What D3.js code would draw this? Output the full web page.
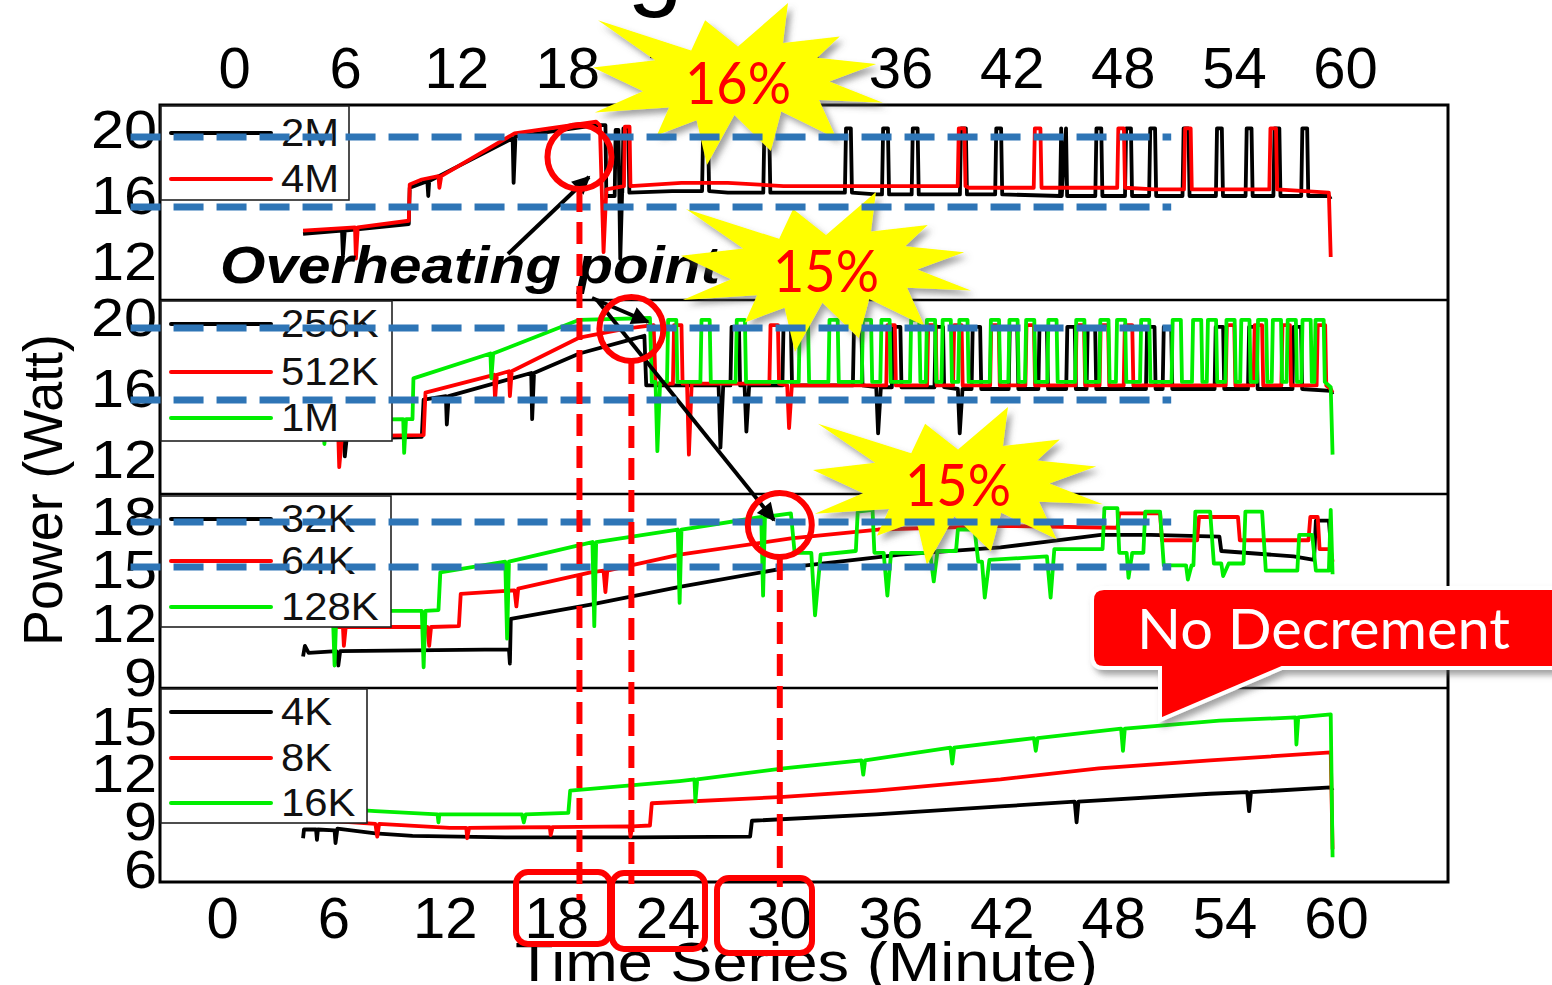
<!DOCTYPE html>
<html>
<head>
<meta charset="utf-8">
<script src="https://cdn.jsdelivr.net/npm/d3@7"></script>
<style>
  html, body { margin: 0; padding: 0; background: #fff; overflow: hidden; }
  svg { display: block; }
</style>
</head>
<body>
<svg id="chart" width="1552" height="985"></svg>
<script>

// time in minutes, power in watts
var xTicks = [0, 6, 12, 18, 24, 30, 36, 42, 48, 54, 60];
var yTicks = [[12, 16, 20], [12, 16, 20], [9, 12, 15, 18], [6, 9, 12, 15]];
var legendNames = [["2M", "4M"], ["256K", "512K", "1M"], ["32K", "64K", "128K"], ["4K", "8K", "16K"]];

// panel 1 : 2M / 4M
var power2M = [[4.1,13.7],[6.2,13.9],[6.25,12.4],[6.35,13.9],[9.8,14.3],[9.85,16.5],[10.8,16.9],[10.85,16.0],[10.9,16.9],
  [15.4,19.5],[15.45,16.8],[15.55,19.6],[19.9,20.3],[20.4,20.3],[20.45,16.0],[20.9,16.0],[20.95,20.0],[21.1,20.0],
  [21.2,12.2],[21.3,16.2],[24.0,16.3],[27.0,16.2],[35.0,16.1],[45.0,16.0],[59.4,16.0],[59.5,15.8]];
var pulses2M = [21.5, 25.8, 29.1, 33.5, 35.5, 37.1, 39.7, 41.6, 45.1, 47.0, 48.6, 49.9, 51.7, 53.5, 55.1, 56.6, 58.1];
var power4M = [[4.1,13.9],[6.9,14.1],[6.95,12.2],[7.05,14.1],[9.8,14.5],[9.85,16.7],[10.5,17.0],[11.4,17.2],[11.45,16.5],
  [11.55,17.2],[15.5,19.8],[19.9,20.5],[20.1,20.3],[20.3,12.6],[20.45,16.4],[21.4,16.6],[21.45,20.2],[21.7,20.2],
  [21.75,16.6],[24.5,16.8],[27.0,16.8],[30.0,16.6],[40.0,16.5],[50.0,16.4],[59.4,16.2],[59.5,12.3]];
var pulses4M = [39.6, 43.7, 48.2, 51.8, 56.4];

// panel 2 : 256K / 512K / 1M
var power256K = [[4.9,13.2],[6.3,13.2],[6.35,12.2],[6.45,13.2],[10.5,13.3],[10.6,15.4],[11.8,15.6],[11.85,14.0],[11.95,15.6],
  [16.4,16.9],[16.45,14.3],[16.55,16.9],[19.0,18.0],[21.8,18.8],[22.5,19.0],[22.6,16.2],[26.5,16.2],[26.6,12.7],
  [26.75,16.2],[27.9,16.2],[28.0,13.6],[28.15,16.2],[35.0,16.1],[35.1,13.5],[35.25,16.1],[39.4,16.0],[39.5,13.5],
  [39.65,16.0],[59.5,15.9],[59.6,15.7]];
var pulses256K = [27.4, 30.2, 34.0, 36.1, 38.4, 40.4, 42.4, 44.0, 45.5, 46.6, 49.8, 50.7, 53.5, 55.3, 57.7];
var power512K = [[4.9,13.35],[6.0,13.35],[6.05,11.6],[6.2,13.35],[10.6,13.4],[10.7,15.8],[14.4,16.8],[14.45,15.4],
  [14.55,16.8],[15.2,17.0],[15.25,15.6],[15.35,17.0],[19.0,18.9],[21.5,19.4],[23.0,19.6],[23.1,16.3],[24.8,16.3],
  [24.9,12.3],[25.05,16.3],[30.2,16.2],[30.3,13.8],[30.45,16.2],[59.5,16.0],[59.6,15.8]];
var pulses512K = [24.3, 29.5, 35.8, 38.0, 39.4, 41.4, 43.3, 46.0, 47.3, 48.6, 54.1, 55.6, 57.1, 59.0];
var power1M = [[4.9,14.25],[5.2,14.25],[5.25,12.9],[5.35,14.25],[9.5,14.3],[9.55,12.4],[9.65,14.3],[10.0,14.3],
  [10.05,16.6],[14.2,18.0],[14.25,16.6],[14.35,18.0],[19.0,19.9],[22.8,20.0],[22.9,16.4],[23.1,16.4],[23.2,12.5],
  [23.35,16.4],[59.5,16.1],[59.6,12.3]];
var pulses1M = [24.0, 25.8, 27.7, 31.1, 32.7, 34.5, 35.5, 37.1, 37.95, 38.8, 39.7, 41.4, 42.4, 43.3, 44.5, 46.0,
  47.3, 48.2, 49.5, 51.2, 52.3, 53.1, 54.1, 54.9, 55.8, 56.6, 57.4, 58.2, 58.9];

// panel 3 : 32K / 64K / 128K
var power32K = [[4.1,10.2],[4.2,10.8],[4.4,10.4],[5.9,10.5],[6.0,9.7],[6.1,10.5],[15.2,10.6],[15.25,9.8],[15.3,12.3],
  [19.6,13.1],[24.4,14.1],[30.4,15.2],[36.3,15.9],[41.7,16.3],[44.0,16.6],[47.1,17.0],[49.8,17.0],[53.5,16.9],
  [53.6,16.1],[57.5,15.8],[58.6,15.6],[58.7,17.8],[59.4,17.8],[59.5,16.5]];
var power64K = [[5.9,11.85],[6.25,11.85],[6.3,10.8],[6.4,11.85],[10.8,11.85],[10.9,10.8],[11.0,11.85],[12.5,11.9],
  [12.6,13.7],[15.5,13.9],[15.6,13.0],[15.7,14.0],[19.6,14.9],[20.3,15.0],[20.4,13.8],[20.5,15.0],[24.4,15.9],
  [30.4,16.8],[35.1,17.3],[41.7,17.5],[48.0,17.4],[48.1,18.2],[50.3,18.2],[50.4,16.7],[52.3,16.7],[52.4,18.0],
  [54.5,18.0],[54.6,16.7],[58.3,16.7],[58.4,18.0],[58.8,18.0],[58.9,16.2],[59.5,16.2],[59.6,15.5]];
var power128K = [[5.7,12.75],[5.8,9.7],[5.9,12.75],[10.5,12.75],[10.6,9.6],[10.7,12.75],[11.4,12.8],[11.5,14.9],
  [15.0,15.5],[15.1,11.2],[15.2,15.5],[19.7,16.6],[19.8,11.9],[19.9,16.6],[24.3,17.3],[24.4,13.2],[24.5,17.3],
  [28.8,18.0],[28.9,13.6],[29.0,18.0],[30.4,18.2],[30.6,16.0],[31.5,16.0],[31.7,12.5],[32.0,15.9],[33.9,16.1],
  [34.0,18.3],[34.8,18.4],[34.9,16.0],[35.4,16.0],[35.6,13.6],[35.8,16.0],[37.9,16.0],[38.1,14.4],[38.3,16.1],
  [39.3,16.1],[39.4,17.3],[40.3,17.3],[40.5,15.5],[40.7,15.5],[40.85,13.5],[41.1,15.6],[44.2,15.8],[44.4,13.5],
  [44.6,16.2],[47.2,16.2],[47.3,18.5],[48.0,18.5],[48.1,16.0],[48.5,16.0],[48.6,14.6],[48.8,16.0],[49.4,16.0],
  [49.5,18.3],[50.3,18.3],[50.5,15.3],[51.7,15.3],[51.8,14.5],[52.0,15.3],[52.1,15.3],[52.2,18.3],[53.0,18.3],
  [53.2,15.4],[53.6,15.4],[53.7,14.7],[54.0,15.4],[54.8,15.4],[54.9,18.3],[55.8,18.3],[56.0,15.0],[57.7,15.0],
  [57.8,17.0],[58.5,17.0],[58.7,15.0],[59.4,15.0],[59.5,18.4],[59.6,14.8]];

// panel 4 : 4K / 8K / 16K
var power4K = [[4.1,8.0],[4.15,8.55],[4.8,8.55],[4.85,7.9],[4.9,8.55],[5.8,8.5],[5.85,7.7],[5.95,8.6],[8.0,8.3],
  [10.0,8.15],[15.0,8.05],[22.0,8.05],[28.2,8.1],[28.3,9.1],[35.0,9.5],[41.7,10.0],[45.7,10.3],[45.8,9.0],[45.9,10.3],
  [53.0,10.8],[55.0,10.9],[55.1,9.7],[55.2,10.9],[59.5,11.2],[59.6,11.0]];
var power8K = [[4.1,9.2],[8.0,8.9],[8.1,8.1],[8.2,8.9],[12.0,8.65],[12.9,8.65],[12.95,8.0],[13.05,8.65],[17.4,8.7],
  [17.45,8.2],[17.55,8.7],[21.7,8.75],[21.75,8.1],[21.85,8.75],[22.8,8.8],[22.9,10.2],[30.0,10.6],[35.0,11.0],
  [41.7,11.7],[47.0,12.4],[53.0,12.9],[59.5,13.4],[59.6,7.3]];
var power16K = [[4.1,10.0],[8.0,9.7],[11.35,9.5],[11.4,9.0],[11.45,9.5],[15.9,9.5],[16.0,9.0],[16.1,9.5],[18.4,9.6],
  [18.5,11.0],[24.4,11.6],[25.2,11.7],[25.25,10.3],[25.35,11.7],[30.0,12.4],[34.2,12.9],[34.3,12.0],[34.4,12.9],
  [39.0,13.7],[39.1,12.7],[39.2,13.7],[43.5,14.3],[43.6,13.5],[43.7,14.3],[48.2,14.9],[48.3,13.5],[48.4,14.9],
  [53.5,15.4],[57.6,15.6],[57.65,13.9],[57.75,15.6],[59.5,15.8],[59.6,6.8]];

// annotations (data units)
var thresholds = [[19.58, 15.33], [19.44, 15.38], [17.72, 15.21]];
var overheatPoints = [{ panel: 0, t: 19.0, v: 18.36 }, { panel: 1, t: 21.8, v: 19.38 }, { panel: 2, t: 29.8, v: 17.55 }];
var dropLabels = ["16%", "15%", "15%"];


function withPulses(base, times, top, hw) {
  var pts = base.slice();
  times.forEach(function(t) {
    var prev = base.filter(function(d) { return d[0] <= t; }).pop();
    var lo = prev ? prev[1] : base[0][1];
    pts.push([t - hw - 0.06, lo], [t - hw, top], [t + hw, top], [t + hw + 0.06, lo]);
  });
  return pts.sort(function(a, b) { return a[0] - b[0]; });
}

var colors = ["#000000", "#ff0000", "#00ee00"];

var panels = [
  { top: 105, bottom: 300, y: d3.scaleLinear().domain([12, 20]).range([262, 130]),
    series: [withPulses(power2M, pulses2M, 20.1, 0.13), withPulses(power4M, pulses4M, 20.1, 0.15)],
    legend: { y: 106, w: 188, h: 94, rows: [133, 179] } },
  { top: 300, bottom: 494, y: d3.scaleLinear().domain([12, 20]).range([460, 318]),
    series: [withPulses(power256K, pulses256K, 19.5, 0.2), withPulses(power512K, pulses512K, 19.6, 0.2),
             withPulses(power1M, pulses1M, 19.9, 0.22)],
    legend: { y: 301, w: 231, h: 140, rows: [324, 372, 418] } },
  { top: 494, bottom: 688, y: d3.scaleLinear().domain([9, 18]).range([678, 517]),
    series: [power32K, power64K, power128K],
    legend: { y: 496, w: 230, h: 131, rows: [519, 561, 607] } },
  { top: 688, bottom: 882, y: d3.scaleLinear().domain([6, 15]).range([870, 727]),
    series: [power4K, power8K, power16K],
    legend: { y: 689, w: 206, h: 134, rows: [712, 758, 803] } }
];

var left = 160, right = 1448;
var x = d3.scaleLinear().domain([0, 60]).range([227, 1340]);
var xBottom = d3.scaleLinear().domain([0, 60]).range([222, 1336]);
var xTop = d3.scaleLinear().domain([0, 60]).range([234, 1345]);

var svg = d3.select("#chart");
var defs = svg.append("defs");

var shadow = defs.append("filter").attr("id", "shadow")
  .attr("x", "-20%").attr("y", "-20%").attr("width", "140%").attr("height", "140%");
shadow.append("feDropShadow").attr("dx", 4).attr("dy", 5).attr("stdDeviation", 3)
  .attr("flood-color", "#555").attr("flood-opacity", 0.55);

defs.append("marker").attr("id", "arrowhead")
  .attr("viewBox", "0 0 10 10").attr("refX", 9).attr("refY", 5)
  .attr("markerUnits", "userSpaceOnUse").attr("markerWidth", 22).attr("markerHeight", 18)
  .attr("orient", "auto")
  .append("path").attr("d", "M0,0 L10,5 L0,10 z").attr("fill", "#000");

// frame
svg.append("rect").attr("x", left).attr("y", 105).attr("width", right - left).attr("height", 882 - 105)
  .attr("fill", "#fff").attr("stroke", "#000").attr("stroke-width", 3);
[300, 494, 688].forEach(function(yy) {
  svg.append("line").attr("x1", left).attr("x2", right).attr("y1", yy).attr("y2", yy)
    .attr("stroke", "#000").attr("stroke-width", 2.5);
});

// series
panels.forEach(function(p) {
  var line = d3.line().x(function(d) { return x(d[0]); }).y(function(d) { return p.y(d[1]); });
  p.series.forEach(function(s, i) {
    svg.append("path").attr("d", line(s)).attr("fill", "none")
      .attr("stroke", colors[i]).attr("stroke-width", 3.8).attr("stroke-linejoin", "round");
  });
});

// legends
panels.forEach(function(p, pi) {
  var lg = svg.append("g");
  lg.append("rect").attr("x", left + 1).attr("y", p.legend.y).attr("width", p.legend.w).attr("height", p.legend.h)
    .attr("fill", "#fff").attr("stroke", "#222").attr("stroke-width", 1.6);
  legendNames[pi].forEach(function(name, i) {
    var ry = p.legend.rows[i];
    lg.append("line").attr("x1", 171).attr("x2", 271).attr("y1", ry).attr("y2", ry)
      .attr("stroke", colors[i]).attr("stroke-width", 4).attr("stroke-linecap", "round");
    lg.append("text").attr("transform", "translate(281," + (ry + 13) + ") scale(1.1,1)")
      .attr("font-family", "Liberation Sans, Arial, sans-serif").attr("font-size", 38)
      .attr("fill", "#111").text(name);
  });
});

// axes
function styleTicks(g, size) {
  g.select(".domain").remove();
  g.selectAll("line").remove();
  g.selectAll("text").attr("font-family", "Liberation Sans, Arial, sans-serif")
    .attr("font-size", size).attr("fill", "#000");
}

svg.append("g").attr("transform", "translate(0,897)")
  .call(d3.axisBottom(xBottom).tickValues(xTicks).tickSize(0).tickPadding(0))
  .call(styleTicks, 58);

svg.append("g").attr("transform", "translate(0,88)")
  .call(d3.axisTop(xTop).tickValues(xTicks).tickSize(0).tickPadding(0))
  .call(styleTicks, 58);

panels.forEach(function(p, pi) {
  var g = svg.append("g").attr("transform", "translate(157,0)")
    .call(d3.axisLeft(p.y).tickValues(yTicks[pi]).tickSize(0).tickPadding(0))
    .call(styleTicks, 54);
  g.selectAll("text").attr("x", 0).attr("transform", "scale(1.1,1)");
});

svg.append("text").attr("transform", "translate(62,490) rotate(-90)")
  .attr("text-anchor", "middle").attr("font-family", "Liberation Sans, Arial, sans-serif")
  .attr("font-size", 56).attr("textLength", 312).attr("lengthAdjust", "spacingAndGlyphs")
  .text("Power (Watt)");

svg.append("text").attr("x", 515).attr("y", 981)
  .attr("font-family", "Liberation Sans, Arial, sans-serif")
  .attr("font-size", 56).attr("textLength", 583).attr("lengthAdjust", "spacingAndGlyphs")
  .text("Time Series (Minute)");

// partial title glyph at the very top
svg.append("text").attr("x", 655).attr("y", -3).attr("text-anchor", "middle")
  .attr("font-family", "Liberation Sans, Arial, sans-serif").attr("font-size", 100).text("g");

// overheating label and arrows
svg.append("text").attr("x", 220).attr("y", 283)
  .attr("font-family", "Liberation Sans, Arial, sans-serif").attr("font-weight", "bold")
  .attr("font-style", "italic").attr("font-size", 52)
  .attr("textLength", 500).attr("lengthAdjust", "spacingAndGlyphs")
  .text("Overheating point");

[[508, 254, 589, 177], [592, 298, 648, 322], [597, 300, 774, 520]].forEach(function(a) {
  svg.append("line").attr("x1", a[0]).attr("y1", a[1]).attr("x2", a[2]).attr("y2", a[3])
    .attr("stroke", "#000").attr("stroke-width", 4).attr("marker-end", "url(#arrowhead)");
});

// explosion shapes
var seal = [[10800,5800],[14522,0],[14155,5325],[18380,4457],[16702,7315],[21097,8137],[17607,10475],
  [21600,13290],[16837,12942],[18145,18095],[14020,14457],[13247,19737],[10532,14935],[8485,21600],
  [7715,15627],[4762,17617],[5667,13937],[135,14587],[3722,11775],[0,8615],[4627,7617],[370,2295],
  [7312,6320],[8352,2295]];
var stars = [{ cx: 738, cy: 84, w: 290, h: 162 }, { cx: 826, cy: 272, w: 290, h: 160 }, { cx: 958, cy: 486, w: 290, h: 158 }];

stars.forEach(function(s, i) {
  var sx = d3.scaleLinear().domain([0, 21600]).range([s.cx - s.w / 2, s.cx + s.w / 2]);
  var sy = d3.scaleLinear().domain([0, 21600]).range([s.cy - s.h / 2, s.cy + s.h / 2]);
  svg.append("polygon")
    .attr("points", seal.map(function(d) { return sx(d[0]) + "," + sy(d[1]); }).join(" "))
    .attr("fill", "#ffff00").attr("filter", "url(#shadow)");
  svg.append("text").attr("x", s.cx).attr("y", s.cy + 20).attr("text-anchor", "middle")
    .attr("font-family", "Lato, Open Sans, sans-serif").attr("font-size", 58).attr("fill", "#ff0000")
    .attr("textLength", 106).attr("lengthAdjust", "spacingAndGlyphs")
    .text(dropLabels[i]);
});

// threshold dashes
thresholds.forEach(function(th, pi) {
  th.forEach(function(v) {
    svg.append("line").attr("x1", x(-5.2)).attr("x2", x(50.9))
      .attr("y1", panels[pi].y(v)).attr("y2", panels[pi].y(v))
      .attr("stroke", "#2e75b6").attr("stroke-width", 7).attr("stroke-dasharray", "30,13");
  });
});

// overheat markers
var lineEnds = [900, 884, 887];
overheatPoints.forEach(function(o, i) {
  var cx = x(o.t), cy = panels[o.panel].y(o.v);
  svg.append("line").attr("x1", cx).attr("x2", cx).attr("y1", cy + 33).attr("y2", lineEnds[i])
    .attr("stroke", "#ff0000").attr("stroke-width", 6).attr("stroke-dasharray", "22,10");
  svg.append("circle").attr("cx", cx).attr("cy", cy).attr("r", 32)
    .attr("fill", "none").attr("stroke", "#ff0000").attr("stroke-width", 6);
});

// highlighted tick labels
[[516, 872, 94, 72], [612, 873, 93, 76], [717, 878, 95, 75]].forEach(function(b) {
  svg.append("rect").attr("x", b[0]).attr("y", b[1]).attr("width", b[2]).attr("height", b[3])
    .attr("rx", 12).attr("fill", "none").attr("stroke", "#ff0000").attr("stroke-width", 6);
});

// callout
svg.append("path")
  .attr("d", "M1104,588 H1580 V668 H1282 L1160,720 L1160,668 H1104 Q1092,668 1092,656 V600 Q1092,588 1104,588 Z")
  .attr("fill", "#ff0000").attr("stroke", "#fff").attr("stroke-width", 4).attr("filter", "url(#shadow)");
svg.append("text").attr("x", 1137).attr("y", 649)
  .attr("font-family", "Lato, Open Sans, sans-serif").attr("font-size", 56).attr("fill", "#fff")
  .attr("textLength", 373).attr("lengthAdjust", "spacingAndGlyphs")
  .text("No Decrement");

</script>
</body>
</html>
